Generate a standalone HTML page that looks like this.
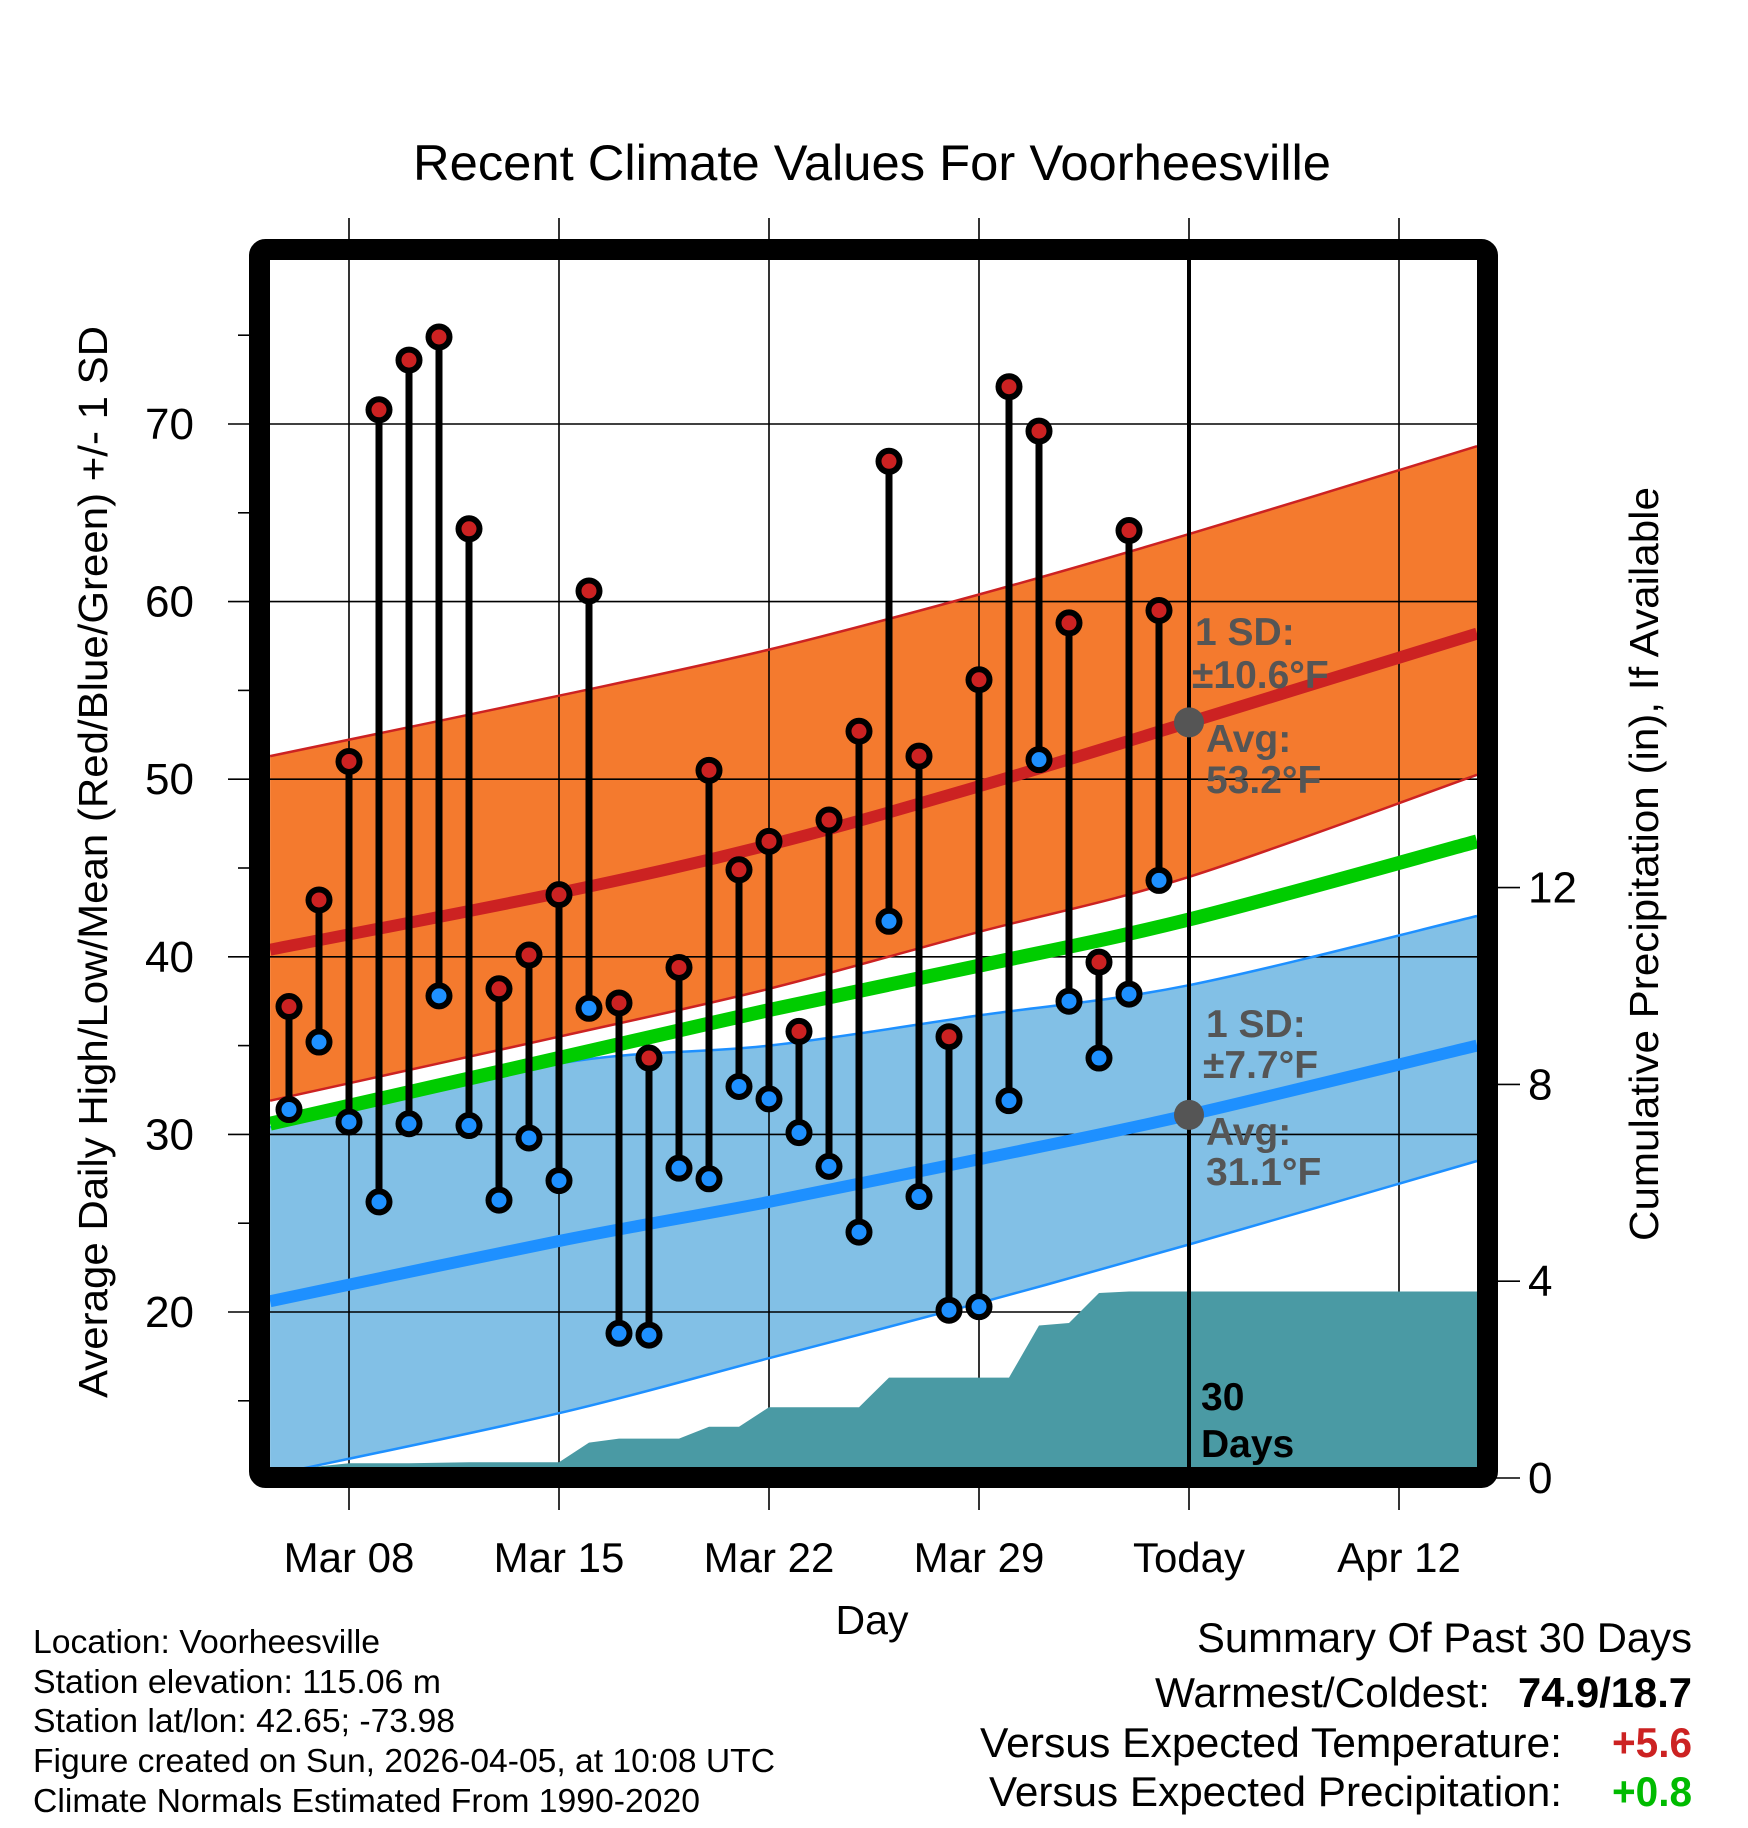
<!DOCTYPE html>
<html><head><meta charset="utf-8"><style>
html,body{margin:0;padding:0;background:#fff}
svg{display:block}
text{font-family:"Liberation Sans",Arial,sans-serif}
</style></head><body>
<svg id="chart" width="1748" height="1828" viewBox="0 0 1748 1828" xmlns="http://www.w3.org/2000/svg">
<text x="872" y="180" font-size="50" text-anchor="middle" textLength="918" lengthAdjust="spacingAndGlyphs">Recent Climate Values For Voorheesville</text>
<g id="fills"></g>
<g id="grid"></g>
<g id="lines"></g>
<g id="precip"></g>
<g id="marks"></g>
<g id="annot"></g>
<rect x="259.5" y="249.5" width="1228" height="1228" rx="6" fill="none" stroke="#000" stroke-width="21" stroke-linejoin="round"/>
<g id="axes"></g>
<text transform="translate(107,862) rotate(-90)" font-size="41" text-anchor="middle" textLength="1072" lengthAdjust="spacingAndGlyphs">Average Daily High/Low/Mean (Red/Blue/Green) +/- 1 SD</text>
<text transform="translate(1658,864) rotate(-90)" font-size="41" text-anchor="middle" textLength="754" lengthAdjust="spacingAndGlyphs">Cumulative Precipitation (in), If Available</text>
<text x="872" y="1634" font-size="41" text-anchor="middle">Day</text>
<g font-size="33">
<text x="33" y="1653" textLength="347" lengthAdjust="spacingAndGlyphs">Location: Voorheesville</text>
<text x="33" y="1693" textLength="408" lengthAdjust="spacingAndGlyphs">Station elevation: 115.06 m</text>
<text x="33" y="1732" textLength="422" lengthAdjust="spacingAndGlyphs">Station lat/lon: 42.65; -73.98</text>
<text x="33" y="1772" textLength="742" lengthAdjust="spacingAndGlyphs">Figure created on Sun, 2026-04-05, at 10:08 UTC</text>
<text x="33" y="1812" textLength="667" lengthAdjust="spacingAndGlyphs">Climate Normals Estimated From 1990-2020</text>
</g>
<g font-size="42">
<text x="1197" y="1652" textLength="495" lengthAdjust="spacingAndGlyphs">Summary Of Past 30 Days</text>
<text x="1155" y="1707" textLength="335" lengthAdjust="spacingAndGlyphs">Warmest/Coldest:</text>
<text x="1518" y="1707" font-weight="bold" textLength="174" lengthAdjust="spacingAndGlyphs">74.9/18.7</text>
<text x="980" y="1757" textLength="582" lengthAdjust="spacingAndGlyphs">Versus Expected Temperature:</text>
<text x="1612" y="1757" font-weight="bold" fill="#cc2222" textLength="80" lengthAdjust="spacingAndGlyphs">+5.6</text>
<text x="989" y="1806" textLength="573" lengthAdjust="spacingAndGlyphs">Versus Expected Precipitation:</text>
<text x="1612" y="1806" font-weight="bold" fill="#00bb00" textLength="80" lengthAdjust="spacingAndGlyphs">+0.8</text>
</g>
</svg>
<script>
// ---- data ----
const highs = [37.2,43.2,51.0,70.8,73.6,74.9,64.1,38.2,40.1,43.5,60.6,37.4,34.3,39.4,50.5,44.9,46.5,35.8,47.7,52.7,67.9,51.3,35.5,55.6,72.1,69.6,58.8,39.7,64.0,59.5];
const lows  = [31.4,35.2,30.7,26.2,30.6,37.8,30.5,26.3,29.8,27.4,37.1,18.8,18.7,28.1,27.5,32.7,32.0,30.1,28.2,24.5,42.0,26.5,20.1,20.3,31.9,51.1,37.5,34.3,37.9,44.3];
const normDays  = [-0.63, 9, 16, 23, 30, 39.6];
const normHigh  = [40.4, 43.6, 46.3, 49.6, 53.2, 58.2];
const highUpper = [51.3, 54.7, 57.3, 60.4, 63.8, 68.75];
const highLower = [31.9, 35.5, 38.2, 41.4, 44.5, 50.25];
const normLow   = [20.6, 24.0, 26.2, 28.6, 31.1, 35.0];
const lowUpper  = [30.4, 34.0, 35.0, 36.7, 38.4, 42.3];
const lowLower  = [10.8, 14.3, 17.4, 20.5, 23.8, 28.5];
const normMean  = [30.6, 34.3, 37.0, 39.5, 42.1, 46.5];
const precipDays = [-0.63,0.4,2,3,4,5,6,7,8,9,10,11,12,13,14,15,16,17,18,19,20,21,22,23,24,25,26,27,28,29,39.6];
const precipVals = [0.2,0.2,0.3,0.3,0.3,0.31,0.32,0.32,0.32,0.32,0.72,0.8,0.8,0.8,1.04,1.04,1.44,1.44,1.44,1.44,2.04,2.04,2.04,2.04,2.04,3.1,3.15,3.76,3.79,3.79,3.79];
const xTickDays = [2,9,16,23,30,37];
const xTickLabels = ["Mar 08","Mar 15","Mar 22","Mar 29","Today","Apr 12"];
const yTicks = [20,30,40,50,60,70];
const y2Ticks = [0,4,8,12];

// ---- scales ----
const X0=270, X1=1477, Y0=260, Y1=1467;
const xs = d => 289 + 30*d;
const ys = v => 424 + (70 - v)*17.76;
const yp = p => 1478 - p*49.2;
const NS="http://www.w3.org/2000/svg";
function mk(parent, tag, attrs){const e=document.createElementNS(NS,tag);for(const k in attrs)e.setAttribute(k,attrs[k]);document.getElementById(parent).appendChild(e);return e;}
function smooth(ds, vs, f){
  const P = ds.map((d,i)=>[xs(d), f(vs[i])]);
  let s = 'M'+P[0][0].toFixed(1)+','+P[0][1].toFixed(1);
  for(let i=0;i<P.length-1;i++){
    const p0=P[Math.max(0,i-1)], p1=P[i], p2=P[i+1], p3=P[Math.min(P.length-1,i+2)];
    const c1=[p1[0]+(p2[0]-p0[0])/6, p1[1]+(p2[1]-p0[1])/6];
    const c2=[p2[0]-(p3[0]-p1[0])/6, p2[1]-(p3[1]-p1[1])/6];
    s += ' C'+c1[0].toFixed(1)+','+c1[1].toFixed(1)+' '+c2[0].toFixed(1)+','+c2[1].toFixed(1)+' '+p2[0].toFixed(1)+','+p2[1].toFixed(1);
  }
  return s;
}
function bandPath(ds, up, lo){
  const a = smooth(ds, up, ys);
  const rd = ds.slice().reverse(), rl = lo.slice().reverse();
  const b = smooth(rd, rl, ys).replace(/^M/,'L');
  return a+' '+b+' Z';
}
let e;
e = mk('fills','path',{d: bandPath(normDays, lowUpper, lowLower), fill:'#82c0e6'});
 
e = mk('fills','path',{d: bandPath(normDays, highUpper, highLower), fill:'#f47a2e'});
 

xTickDays.forEach((d,i)=>{
  e = mk('grid','line',{x1:xs(d),x2:xs(d),y1:218,y2:1510,stroke:'#000','stroke-width':1.6});
   
  e = mk('axes','text',{x:xs(d),y:1572,'font-size':42,'text-anchor':'middle'}); e.textContent=xTickLabels[i];
   
});
yTicks.forEach(v=>{
  e = mk('grid','line',{x1:228,x2:X1,y1:ys(v),y2:ys(v),stroke:'#000','stroke-width':1.6});
   
  e = mk('axes','text',{x:194,y:ys(v)+15,'font-size':44,'text-anchor':'end'}); e.textContent=v;
   
});
[15,25,35,45,55,65,75].forEach(v=>{
  e = mk('grid','line',{x1:238,x2:252,y1:ys(v),y2:ys(v),stroke:'#000','stroke-width':1.6});
   
});
y2Ticks.forEach(p=>{
  e = mk('axes','line',{x1:1495,x2:1520,y1:yp(p),y2:yp(p),stroke:'#000','stroke-width':1.6});
   
  e = mk('axes','text',{x:1528,y:yp(p)+15,'font-size':44}); e.textContent=p;
   
});

[[lowLower,'#1e90ff',2.5,'low-minus-sd-line'],[lowUpper,'#1e90ff',2.5,'low-plus-sd-line'],
 [highLower,'#cc2222',2.5,'high-minus-sd-line'],[highUpper,'#cc2222',2.5,'high-plus-sd-line'],
 [normLow,'#1e90ff',12,'normal-low-line'],[normHigh,'#cc2222',12,'normal-high-line'],
 [normMean,'#00cc00',14,'normal-mean-line']].forEach(s=>{
  e = mk('lines','path',{d:smooth(normDays,s[0],ys),fill:'none',stroke:s[1],'stroke-width':s[2]});
  
  
});

const pp = precipDays.map((d,i)=>xs(d).toFixed(1)+','+yp(precipVals[i]).toFixed(1));
e = mk('precip','polygon',{points: pp.join(' ')+' '+X1+','+Y1+' '+X0+','+Y1, fill:'#4a9aa4'});
 

e = mk('precip','line',{x1:xs(30),x2:xs(30),y1:Y0,y2:Y1,stroke:'#000','stroke-width':4});
 

highs.forEach((h,i)=>{
  e = mk('marks','line',{x1:xs(i),x2:xs(i),y1:ys(h),y2:ys(lows[i]),stroke:'#000','stroke-width':7});
   
});
highs.forEach((h,i)=>{
  e = mk('marks','circle',{cx:xs(i),cy:ys(h),r:10.5,fill:'#cc2222',stroke:'#000','stroke-width':6});
   
  e = mk('marks','circle',{cx:xs(i),cy:ys(lows[i]),r:10.5,fill:'#1e90ff',stroke:'#000','stroke-width':6});
   
});

const tx = xs(30);
e = mk('annot','circle',{cx:tx,cy:ys(normHigh[4]),r:15,fill:'#555'});
 
e = mk('annot','circle',{cx:tx,cy:ys(normLow[4]),r:15,fill:'#555'});
 
const ann = [
 ['1 SD:',1195,645,'high-sd-label'],['±10.6°F',1192,688,'high-sd-value'],
 ['Avg:',1206,752,'high-avg-label'],['53.2°F',1206,793,'high-avg-value'],
 ['1 SD:',1206,1037,'low-sd-label'],['±7.7°F',1203,1078,'low-sd-value'],
 ['Avg:',1206,1145,'low-avg-label'],['31.1°F',1206,1185,'low-avg-value']];
ann.forEach(a=>{
  e = mk('annot','text',{x:a[1],y:a[2],'font-size':39,'font-weight':'bold',fill:'#555'});
  e.textContent=a[0];
   
});
e = mk('annot','text',{x:1201,y:1410,'font-size':39,'font-weight':'bold',fill:'#000'}); e.textContent='30';
 
e = mk('annot','text',{x:1201,y:1457,'font-size':39,'font-weight':'bold',fill:'#000'}); e.textContent='Days';
 
</script>
</body></html>
